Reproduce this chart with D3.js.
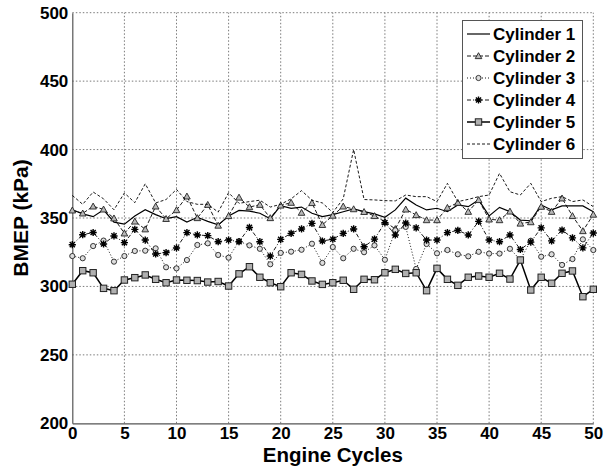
<!DOCTYPE html>
<html><head><meta charset="utf-8">
<script src="https://cdn.jsdelivr.net/npm/d3@7"></script>
<style>body{margin:0;background:#fff}svg{display:block}text{font-family:"Liberation Sans",Arial,sans-serif;font-weight:bold;fill:#000}</style>
</head><body>
<script>
const cycles = d3.range(0, 51);
const cyl1 = [356,353,351,356,347,345.5,351.5,356,352.5,349.5,351,347,350.5,347.5,345,351.5,355.5,355,353.5,349.5,359,357,358,353.5,351,352.5,354.6,356.6,354.6,353,350.5,355.9,364.5,359.5,355.9,357.1,354.6,359.5,358.3,363.2,351.5,357.8,354.6,348.5,348,359.5,355.9,358.8,358.8,358.8,354.6];
const cyl2 = [355.6,353.4,358.5,356.3,349.8,338.8,347.5,341.8,358.5,349.4,355.8,365.8,350,359.7,344.5,351.5,365,358,359.7,350,359.2,361.2,353.9,361,345,351.8,358.5,356.5,354.5,351.5,347.3,342,356.3,352.2,348.5,348.5,357.5,361.2,354.6,363.2,349,348.5,354.8,346,347,358.3,354.6,364.4,351.5,340.5,352.5];
const cyl3 = [322.2,320.6,329.5,333.5,318.1,322.2,325.9,326.1,327.8,314,313.2,319.3,330.3,331.5,323,321,333,330,327.5,316.2,324.5,325.4,326.8,331.2,317.2,328.8,320.6,327.5,325,330,319.5,341,343.5,312.8,331,324.2,326.6,323.5,322,325.3,324,324,327.5,319.5,333.4,321.7,323.5,315.7,320,334.4,326.6];
const cyl4 = [330.5,337.8,339.4,331,336.9,332,341.7,333.9,323.7,324.7,328.1,339.3,337.6,337.1,332.7,333.9,332.7,343.1,332.7,322.2,334.4,338.8,342,346.1,333.2,334.5,338.8,342,329,334.6,346.6,337.6,346.3,342.8,333.9,333.9,339.3,341,337.6,347.5,333.9,332.7,337.6,327,332.4,342.8,333.3,341.2,335.5,328.2,339];
const cyl5 = [301.6,311.5,310,298.6,296.9,304.7,306.4,308.4,305.2,302.7,304.7,304.5,304.3,303.2,303.6,300.3,309.2,314.4,306.7,302.7,299.8,310,308.8,304,301.5,302.7,304.5,297.9,305.2,304.9,310,312.5,309.5,310,296.9,313.2,305.2,300.8,306.7,307.6,306.7,309.6,305.4,319.3,297.4,306.7,302.3,309.6,311.3,292.5,297.9];
const cyl6 = [366.5,360,369,364,356,368.3,361.2,375,361,363.5,370.9,362,360,360,354.3,368.5,360.7,362,363,358,360,364,370,363,361,354,364,400,363.5,363.2,362.7,362.5,366.8,365.6,365.6,362,375.3,362,363.6,365.6,366.8,382.6,369.2,366.8,375.3,362,364.4,365.6,362,363.2,358.3];
const seriesNames = ["Cylinder 1","Cylinder 2","Cylinder 3","Cylinder 4","Cylinder 5","Cylinder 6"];
const xTicks = [0,5,10,15,20,25,30,35,40,45,50];
const yTicks = [200,250,300,350,400,450,500];
const xTitle = "Engine Cycles";
const yTitle = "BMEP (kPa)";

const W = 610, H = 467;
const svg = d3.select("body").append("svg").attr("width", W).attr("height", H);
const x = d3.scaleLinear().domain([0, 50]).range([72.3, 593.3]);
const y = d3.scaleLinear().domain([200, 500]).range([423.3, 12.7]);

// grid
const grid = svg.append("g").attr("stroke", "#7a7a7a").attr("stroke-width", 1).attr("stroke-dasharray", "1.5,2");
grid.selectAll("line.gx").data(xTicks.slice(1)).join("line")
  .attr("x1", d => x(d)).attr("x2", d => x(d)).attr("y1", y(200)).attr("y2", y(500));
grid.selectAll("line.gy").data(yTicks.slice(1)).join("line")
  .attr("x1", x(0)).attr("x2", x(50)).attr("y1", d => y(d)).attr("y2", d => y(d));

// axes
const xAxis = d3.axisBottom(x).tickValues(xTicks).tickSize(0).tickPadding(4).tickFormat(d3.format("d"));
const yAxis = d3.axisLeft(y).tickValues(yTicks).tickSize(0).tickPadding(4).tickFormat(d3.format("d"));
const gx = svg.append("g").attr("transform", `translate(0,${y(200)})`).call(xAxis);
const gy = svg.append("g").attr("transform", `translate(${x(0)},0)`).call(yAxis);
[gx, gy].forEach(g => {
  g.select(".domain").attr("stroke", "#555").attr("stroke-width", 1.2);
  g.selectAll("text").attr("font-size", 17).attr("font-family", "Liberation Sans, Arial, sans-serif").attr("font-weight", "bold").attr("fill", "#000");
});

svg.append("text").attr("x", (x(0) + x(50)) / 2).attr("y", 462).attr("text-anchor", "middle").attr("font-size", 20.5).text(xTitle);
svg.append("text").attr("transform", `translate(28,${(y(200) + y(500)) / 2}) rotate(-90)`).attr("text-anchor", "middle").attr("font-size", 21).text(yTitle);

const specs = [
  {data: cyl1, dash: null, marker: null, width: 1.2},
  {data: cyl2, dash: "4,2", marker: "tri", width: 0.9},
  {data: cyl3, dash: "1,2", marker: "circ", width: 0.9},
  {data: cyl4, dash: "4,2,1,2", marker: "star", width: 0.9},
  {data: cyl5, dash: null, marker: "sq", width: 1.5},
  {data: cyl6, dash: "3,2", marker: null, width: 0.9}
];

function drawMarker(g, type, cx, cy) {
  if (type === "tri") {
    const s = 3.3;
    g.append("path").attr("d", `M${cx},${cy - s} L${cx + s},${cy + s * 0.8} L${cx - s},${cy + s * 0.8} Z`)
      .attr("fill", "#b8b8b8").attr("stroke", "#222").attr("stroke-width", 0.9);
  } else if (type === "circ") {
    g.append("circle").attr("cx", cx).attr("cy", cy).attr("r", 2.6).attr("fill", "#ddd").attr("stroke", "#222").attr("stroke-width", 0.9);
  } else if (type === "star") {
    const s = 3.6, d = s * 0.72;
    g.append("path").attr("d", `M${cx - s},${cy}H${cx + s}M${cx},${cy - s}V${cy + s}M${cx - d},${cy - d}L${cx + d},${cy + d}M${cx - d},${cy + d}L${cx + d},${cy - d}`)
      .attr("stroke", "#000").attr("stroke-width", 1.4).attr("fill", "none");
  } else if (type === "sq") {
    const s = 3.2;
    g.append("rect").attr("x", cx - s).attr("y", cy - s).attr("width", 2 * s).attr("height", 2 * s)
      .attr("fill", "#b0b0b0").attr("stroke", "#222").attr("stroke-width", 1);
  }
}

const line = d3.line().x((d, i) => x(cycles[i])).y(d => y(d));
const plot = svg.append("g");
specs.forEach(s => {
  plot.append("path").datum(s.data).attr("d", line).attr("fill", "none").attr("stroke", "#000")
    .attr("stroke-width", s.width).attr("stroke-dasharray", s.dash);
  if (s.marker) {
    const mg = plot.append("g");
    s.data.forEach((v, i) => drawMarker(mg, s.marker, x(cycles[i]), y(v)));
  }
});

// legend
const lg = svg.append("g");
lg.append("rect").attr("x", 462.5).attr("y", 20.5).attr("width", 120).attr("height", 138).attr("fill", "#fff").attr("stroke", "#555").attr("stroke-width", 1);
specs.forEach((s, i) => {
  const yy = 34 + i * 22;
  lg.append("line").attr("x1", 467).attr("x2", 490).attr("y1", yy).attr("y2", yy).attr("stroke", "#000")
    .attr("stroke-width", s.width).attr("stroke-dasharray", s.dash);
  if (s.marker) drawMarker(lg, s.marker, 478.5, yy);
  lg.append("text").attr("x", 493).attr("y", yy + 6).attr("font-size", 17).text(seriesNames[i]);
});
</script>
</body></html>
